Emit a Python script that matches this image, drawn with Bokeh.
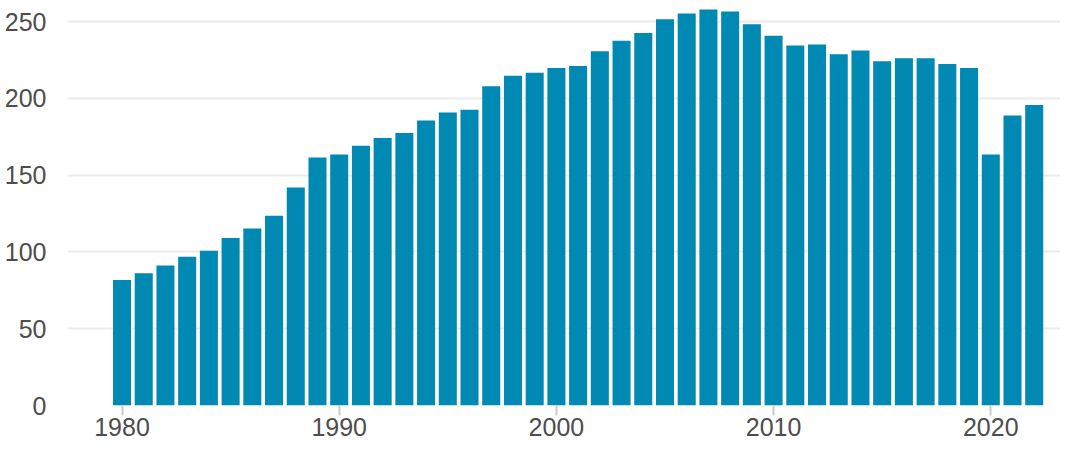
from bokeh.plotting import figure
from bokeh.models import Range1d, FixedTicker, ColumnDataSource
from bokeh.embed import file_html
from bokeh.resources import INLINE

years = list(range(1980, 2023))
values = [81.7, 86.1, 91.2, 96.9, 100.7, 109.0, 115.3, 123.5, 141.9, 161.5,
          163.4, 169.1, 174.2, 177.4, 185.6, 190.7, 192.6, 207.8, 214.7, 216.6,
          219.8, 221.1, 230.6, 237.5, 242.6, 251.5, 255.3, 257.8, 256.5, 248.3,
          240.7, 234.4, 235.0, 228.7, 231.2, 224.2, 226.1, 226.1, 222.3, 219.8,
          163.4, 188.8, 195.7]
x_ticks = [1980, 1990, 2000, 2010, 2020]
y_ticks = [0, 50, 100, 150, 200, 250]

BAR_COLOR = "#0089B3"
TEXT_COLOR = "#4d4d4d"

src = ColumnDataSource(data=dict(year=years, value=values))

p = figure(width=1060, height=446, output_backend="svg", toolbar_location=None,
           x_range=Range1d(1977.49, 2023.21), y_range=Range1d(0, 263.7),
           min_border_left=67, min_border_right=0, min_border_top=0, min_border_bottom=41)
p.outline_line_color = None
p.background_fill_color = "white"
p.border_fill_color = "white"

p.vbar(x="year", top="value", width=0.83, source=src, color=BAR_COLOR, line_color=None)

p.xgrid.grid_line_color = None
p.ygrid.grid_line_color = "#ebebeb"
p.ygrid.grid_line_width = 2
p.ygrid.ticker = FixedTicker(ticks=y_ticks)

p.yaxis.ticker = FixedTicker(ticks=y_ticks)
p.yaxis.axis_line_color = None
p.yaxis.major_tick_line_color = None
p.yaxis.minor_tick_line_color = None
p.yaxis.major_label_standoff = 15
p.yaxis.major_label_text_font = "Liberation Sans"
p.yaxis.major_label_text_font_size = "25px"
p.yaxis.major_label_text_color = TEXT_COLOR

p.xaxis.ticker = FixedTicker(ticks=x_ticks)
p.xaxis.axis_line_color = None
p.xaxis.major_tick_line_color = "#cccccc"
p.xaxis.major_tick_line_width = 2
p.xaxis.major_tick_in = 0
p.xaxis.major_tick_out = 10
p.xaxis.minor_tick_line_color = None
p.xaxis.major_label_standoff = 2
p.xaxis.major_label_text_font = "Liberation Sans"
p.xaxis.major_label_text_font_size = "25px"
p.xaxis.major_label_text_color = TEXT_COLOR

open("out.html", "w").write(file_html(p, INLINE))
